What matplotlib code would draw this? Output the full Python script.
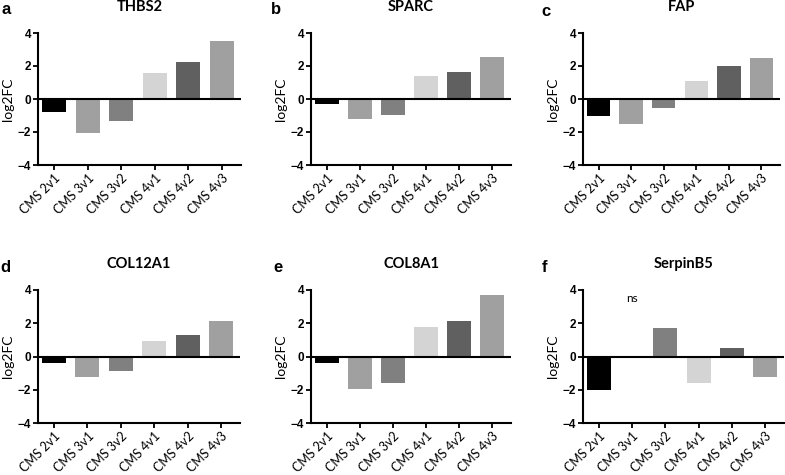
import numpy as np
import matplotlib
matplotlib.use("Agg")
import matplotlib.pyplot as plt

categorias = ["CMS 2v1", "CMS 3v1", "CMS 3v2", "CMS 4v1", "CMS 4v2", "CMS 4v3"]
colores = ["#000000", "#a0a0a0", "#808080", "#d4d4d4", "#606060", "#a0a0a0"]

genes = ["THBS2", "SPARC", "FAP", "COL12A1", "COL8A1", "SerpinB5"]
letras = ["a", "b", "c", "d", "e", "f"]

thbs2 = [-0.77, -2.04, -1.31, 1.56, 2.26, 3.52]
sparc = [-0.32, -1.21, -0.95, 1.37, 1.66, 2.53]
fap = [-1.03, -1.49, -0.57, 1.09, 2.00, 2.48]
col12a1 = [-0.42, -1.26, -0.88, 0.94, 1.32, 2.12]
col8a1 = [-0.42, -1.96, -1.60, 1.78, 2.16, 3.70]
serpinb5 = [-2.04, np.nan, 1.72, -1.58, 0.54, -1.26]
valores = [thbs2, sparc, fap, col12a1, col8a1, serpinb5]

W, H = 785, 475
fig = plt.figure(figsize=(W / 100, H / 100), dpi=100)

# posiciones de los ejes en pixeles: (izq, der, arriba, abajo)
cajas = [(38, 241, 33, 165), (311, 511, 33, 165), (583, 780, 33, 165),
         (38, 240, 290, 423), (311, 511, 290, 423), (583, 784, 290, 423)]
pos_letra = [(6, 10), (276, 10), (546, 11), (5, 267), (278, 267), (545, 267)]
fuente = "Lato"

for i in range(6):
    l, r, t, b = cajas[i]
    ax = fig.add_axes([l / W, 1 - b / H, (r - l) / W, (b - t) / H])
    x = np.arange(len(categorias))
    ax.bar(x, valores[i], width=0.72, color=colores, edgecolor="none")
    ax.axhline(0, color="black", lw=1.5)
    ax.set_xlim(-0.48, 5.57)
    ax.set_ylim(-4, 4)
    ax.set_yticks([-4, -2, 0, 2, 4])
    ax.set_xticks(x)
    ax.set_xticklabels(categorias, rotation=45, ha="right", rotation_mode="anchor",
                       fontsize=9, family=fuente)
    for lab in ax.get_yticklabels():
        lab.set_fontweight("bold")
        lab.set_family("Liberation Sans")
        lab.set_fontsize(8.5)
    ax.tick_params(direction="out", length=3.5, width=1.3, pad=1.5)
    ax.spines["top"].set_visible(False)
    ax.spines["right"].set_visible(False)
    ax.spines["left"].set_linewidth(1.5)
    ax.spines["bottom"].set_linewidth(1.5)
    ax.set_ylabel("log2FC", fontsize=10, family=fuente, labelpad=3)
    ax.set_title(genes[i], fontsize=10.5, fontweight="bold", family=fuente, pad=16)
    fig.text(pos_letra[i][0] / W, 1 - pos_letra[i][1] / H, letras[i],
             fontsize=12, fontweight="bold", family="Liberation Sans",
             ha="center", va="center")
    if genes[i] == "SerpinB5":
        ax.text(1, 3.5, "ns", fontsize=8.5, family=fuente, ha="center", va="center")

fig.savefig("out.png", dpi=100)
